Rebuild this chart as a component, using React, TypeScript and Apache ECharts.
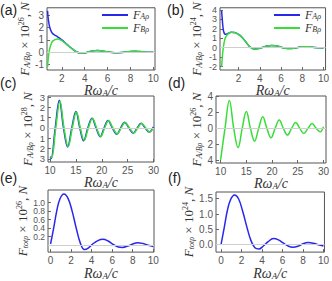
import React, { useEffect, useRef } from 'react';
import * as echarts from 'echarts';

// ---- data ----
const xTicks10 = [2, 4, 6, 8, 10];
const xTicks30 = [10, 15, 20, 25, 30];
const xTicks0 = [0, 2, 4, 6, 8, 10];
const yTicksA = [-1, 0, 1, 2, 3];
const yTicksB = [-2, -1, 0, 1, 2, 3, 4];
const yTicksC = [-3, -2, -1, 0, 1, 2, 3];
const yTicksD = [-4, -2, 0, 2, 4];
const yTicksE = [0, 0.2, 0.4, 0.6, 0.8, 1.0, 1.2];
const yTicksF = [0, 0.5, 1.0, 1.5];

// (a)
const aX = [0.75, 0.8, 0.9, 1.0, 1.1, 1.2, 1.4, 1.6, 1.8, 2.0, 2.3, 2.6, 3.0, 3.3, 3.6, 3.9, 4.3, 4.7, 5.1, 5.5, 6.0, 6.4, 6.8, 7.2, 7.6, 8.0, 8.4, 8.8, 9.2, 9.6, 10.0];
const aFA = [3.4, 2.8, 2.2, 1.85, 1.65, 1.52, 1.38, 1.28, 1.15, 1.0, 0.75, 0.5, 0.2, 0.02, -0.08, -0.08, 0.0, 0.1, 0.14, 0.1, 0.02, -0.03, -0.05, -0.03, 0.02, 0.05, 0.06, 0.04, 0.01, -0.01, -0.02];
const aFB = [-1.2, -0.6, 0.1, 0.5, 0.75, 0.9, 1.03, 1.08, 1.04, 0.95, 0.75, 0.5, 0.2, 0.02, -0.08, -0.08, 0.0, 0.1, 0.14, 0.1, 0.02, -0.03, -0.05, -0.03, 0.02, 0.05, 0.06, 0.04, 0.01, -0.01, -0.02];

// (b)
const bX = [0.4, 0.45, 0.5, 0.55, 0.6, 0.7, 0.8, 1.0, 1.3, 1.6, 2.0, 2.4, 2.8, 3.1, 3.5, 3.9, 4.3, 4.7, 5.1, 5.5, 6.0, 6.4, 6.8, 7.2, 7.6, 8.0, 8.4, 8.8, 9.2, 9.6, 10.0];
const bFA = [3.9, 3.2, 2.5, 2.0, 1.7, 1.45, 1.42, 1.5, 1.62, 1.6, 1.4, 1.0, 0.45, 0.05, -0.15, -0.1, 0.05, 0.18, 0.24, 0.2, 0.05, -0.05, -0.08, -0.05, 0.03, 0.09, 0.11, 0.08, 0.02, -0.02, -0.03];
const bFB = [-2.0, -1.3, -0.6, -0.1, 0.3, 0.85, 1.15, 1.45, 1.62, 1.6, 1.4, 1.0, 0.45, 0.05, -0.15, -0.1, 0.05, 0.18, 0.24, 0.2, 0.05, -0.05, -0.08, -0.05, 0.03, 0.09, 0.11, 0.08, 0.02, -0.02, -0.03];

// (c)
const cAX = [10.0, 10.2, 11.0, 11.8, 12.6, 13.4, 14.2, 15.0, 15.75, 16.5, 17.3, 18.1, 18.9, 19.7, 20.45, 21.2, 22.05, 22.9, 23.65, 24.4, 25.25, 26.1, 26.85, 27.6, 28.4, 29.15, 30.0];
const cFA = [-2.85, -2.95, 0, 2.7, 0, -1.85, 0, 1.6, 0, -1.25, 0, 0.95, 0, -0.85, 0, 0.72, 0, -0.6, 0, 0.55, 0, -0.5, 0, 0.45, 0, -0.4, 0.1];
const cBX = [10.0, 10.3, 11.1, 11.9, 12.7, 13.5, 14.3, 15.1, 15.85, 16.6, 17.4, 18.2, 19.0, 19.8, 20.55, 21.3, 22.15, 23.0, 23.75, 24.5, 25.35, 26.2, 26.95, 27.7, 28.5, 29.25, 30.0];
const cFB = [-2.75, -2.85, 0, 2.6, 0, -1.8, 0, 1.55, 0, -1.2, 0, 0.92, 0, -0.82, 0, 0.7, 0, -0.58, 0, 0.53, 0, -0.48, 0, 0.43, 0, -0.38, 0.0];

// (d)
const dX = [10.0, 10.85, 11.7, 12.55, 13.4, 14.2, 15.0, 15.8, 16.6, 17.4, 18.2, 19.0, 19.8, 20.6, 21.4, 22.2, 23.0, 23.8, 24.6, 25.4, 26.2, 27.0, 27.8, 28.6, 29.4, 30.0];
const dFB = [-3.95, 0, 3.5, 0, -2.4, 0, 2.1, 0, -1.6, 0, 1.45, 0, -1.17, 0, 1.05, 0, -0.84, 0, 0.75, 0, -0.63, 0, 0.62, 0, -0.42, 0.2];

// (e), (f)
const eX = [0, 0.3, 0.6, 0.9, 1.3, 1.7, 2.1, 2.5, 2.9, 3.3, 3.7, 4.1, 4.6, 5.1, 5.6, 6.1, 6.6, 7.0, 7.5, 8.0, 8.5, 9.0, 9.5, 10];
const eTot = [0.03, 0.4, 0.8, 1.08, 1.2, 1.1, 0.8, 0.4, 0.05, -0.1, -0.06, 0.03, 0.11, 0.14, 0.1, 0.02, -0.04, -0.05, -0.02, 0.03, 0.06, 0.04, 0.0, -0.03];
const fTot = [0.02, 0.55, 1.1, 1.45, 1.62, 1.5, 1.1, 0.6, 0.15, -0.1, -0.14, -0.05, 0.1, 0.2, 0.16, 0.05, -0.05, -0.08, -0.05, 0.03, 0.07, 0.05, 0.0, -0.04];

const BLUE = '#2828ec';
const GREEN = '#38de38';
const SERIF = '"Liberation Serif", "DejaVu Serif", serif';
const SANS = '"Liberation Sans", Arial, sans-serif';
const INK = '#333';

function pts(xs: number[], ys: number[]) {
  return xs.map((x, i) => [x, ys[i]]);
}

const nameRich = {
  i: { fontFamily: SERIF, fontStyle: 'italic', fontSize: 14, lineHeight: 14, color: INK },
  s: { fontFamily: SERIF, fontStyle: 'italic', fontSize: 9, lineHeight: 8, verticalAlign: 'bottom', color: INK },
};
const yRich = {
  i: { fontFamily: SERIF, fontStyle: 'italic', fontSize: 13, lineHeight: 14, color: INK },
  r: { fontFamily: SERIF, fontSize: 13, lineHeight: 14, color: INK },
  s: { fontFamily: SERIF, fontStyle: 'italic', fontSize: 8, lineHeight: 7, verticalAlign: 'bottom', color: INK },
  p: { fontFamily: SERIF, fontSize: 8, lineHeight: 7, verticalAlign: 'top', color: INK },
};

const X_NAME = '{i|Rω}{s|A}{i|/c}';

export default function App() {
  const ref = useRef<HTMLDivElement>(null);
  useEffect(() => {
    document.body.style.margin = '0';
    const chart = echarts.init(ref.current!, null, { renderer: 'svg' });

    const grids = [
      { left: 47, top: 4, width: 108, height: 66 },
      { left: 220, top: 1, width: 109, height: 69 },
      { left: 48, top: 96, width: 106, height: 66 },
      { left: 216, top: 96, width: 112, height: 67 },
      { left: 48, top: 190, width: 106, height: 67 },
      { left: 216, top: 192, width: 112, height: 66 },
    ].map((g) => ({ ...g, show: true, borderColor: '#555', borderWidth: 1, backgroundColor: 'transparent' }));

    const xAx = (i: number, min: number, max: number, ticks: number[], gap: number) => ({
      type: 'value', gridIndex: i, min, max,
      axisLine: { show: false, onZero: false }, splitLine: { show: false },
      axisTick: { show: true, inside: true, length: 3, customValues: ticks, lineStyle: { color: '#666' } },
      axisLabel: { customValues: ticks, fontSize: 10, lineHeight: 10, color: '#555', margin: 3, fontFamily: SANS },
      name: X_NAME, nameLocation: 'middle', nameGap: gap,
      nameTextStyle: { rich: nameRich },
    });
    const yAx = (i: number, min: number, max: number, ticks: number[], fmt: (v: number) => string, name: string, gap: number, fs: number) => ({
      type: 'value', gridIndex: i, min, max,
      axisLine: { show: false, onZero: false }, splitLine: { show: false },
      axisTick: { show: true, inside: true, length: 3, customValues: ticks, lineStyle: { color: '#666' } },
      axisLabel: { customValues: ticks, fontSize: fs, lineHeight: fs - 1, color: '#555', margin: 3, fontFamily: SANS, formatter: fmt },
      name, nameLocation: 'middle', nameGap: gap,
      nameTextStyle: { rich: yRich },
    });
    const plain = (v: number) => String(v);
    const abs = (v: number) => String(Math.abs(v));
    const one = (v: number) => v.toFixed(1);

    const zeroLine = {
      silent: true, symbol: 'none', label: { show: false },
      lineStyle: { color: '#cfcfcf', width: 1, type: 'solid' },
      data: [{ yAxis: 0 }],
    };
    const line = (name: string, i: number, data: number[][], color: string, mark: boolean) => ({
      name, type: 'line', xAxisIndex: i, yAxisIndex: i, data, smooth: 0.4,
      symbol: 'none', lineStyle: { color, width: 1.5 }, itemStyle: { color },
      ...(mark ? { markLine: zeroLine } : {}),
    });

    const legendRich = {
      i: { fontFamily: SERIF, fontStyle: 'italic', fontSize: 12, lineHeight: 11, color: INK },
      s: { fontFamily: SERIF, fontStyle: 'italic', fontSize: 8, lineHeight: 5, verticalAlign: 'bottom', color: INK },
    };
    const legendFmt = (n: string) => (n.startsWith('FA') ? '{i|F}{s|Aρ}' : '{i|F}{s|Bρ}');
    const legendBase = {
      orient: 'vertical', top: 9, padding: 0, icon: 'rect',
      itemWidth: 26, itemHeight: 2, itemGap: 1, formatter: legendFmt,
      textStyle: { rich: legendRich, padding: [0, 0, 0, 0] }, selectedMode: false,
    };

    const option = {
      animation: false,
      grid: grids,
      xAxis: [
        xAx(0, 0.7, 10.15, xTicks10, 10),
        xAx(1, 0.25, 10.2, xTicks10, 10),
        xAx(2, 9.6, 30.1, xTicks30, 9),
        xAx(3, 9.1, 30.5, xTicks30, 9),
        xAx(4, -0.25, 10.07, xTicks0, 10),
        xAx(5, -0.5, 10.1, xTicks0, 10),
      ],
      yAxis: [
        yAx(0, -1.47, 3.64, yTicksA, plain, '{i|F}{s|A/Bρ}{r| × 10}{p|26}{r|, }{i|N}', 14, 10),
        yAx(1, -2.36, 4.22, yTicksB, plain, '{i|F}{s|A/Bρ}{r| × 10}{p|24}{r|, }{i|N}', 17, 9),
        yAx(2, -3.3, 3.1, yTicksC, abs, '{i|F}{s|A/Bρ}{r| × 10}{p|28}{r|, }{i|N}', 14, 9.5),
        yAx(3, -4.33, 4.05, yTicksD, abs, '{i|F}{s|A/Bρ}{r| × 10}{p|26}{r|, }{i|N}', 11, 10),
        yAx(4, -0.16, 1.295, yTicksE, one, '{i|F}{s|totρ}{r| × 10}{p|26}{r|, }{i|N}', 17, 8.5),
        yAx(5, -0.24, 1.72, yTicksF, one, '{i|F}{s|totρ}{r| × 10}{p|24}{r|, }{i|N}', 14, 10),
      ],
      legend: [
        { ...legendBase, data: ['FA_a', 'FB_a'], left: 102 },
        { ...legendBase, data: ['FA_b', 'FB_b'], left: 274 },
      ],
      series: [
        line('FA_a', 0, pts(aX, aFA), BLUE, true),
        line('FB_a', 0, pts(aX, aFB), GREEN, false),
        line('FA_b', 1, pts(bX, bFA), BLUE, true),
        line('FB_b', 1, pts(bX, bFB), GREEN, false),
        line('FA_c', 2, pts(cAX, cFA), BLUE, true),
        line('FB_c', 2, pts(cBX, cFB), GREEN, false),
        line('FB_d', 3, pts(dX, dFB), GREEN, true),
        line('Ftot_e', 4, pts(eX, eTot), BLUE, true),
        line('Ftot_f', 5, pts(eX, fTot), BLUE, true),
      ],
      graphic: [
        ['(a)', 0, 3], ['(b)', 167, 3], ['(c)', 0, 76], ['(d)', 168, 76], ['(e)', 0, 171], ['(f)', 168, 171],
      ].map(([t, x, y]) => ({
        type: 'text', left: x as number, top: y as number,
        style: { text: t as string, font: `14px ${SANS}`, fill: '#222' },
      })),
    };
    chart.setOption(option as any);
    return () => chart.dispose();
  }, []);
  return <div ref={ref} style={{ position: 'absolute', left: 0, top: 0, width: 332, height: 281 }} />;
}
